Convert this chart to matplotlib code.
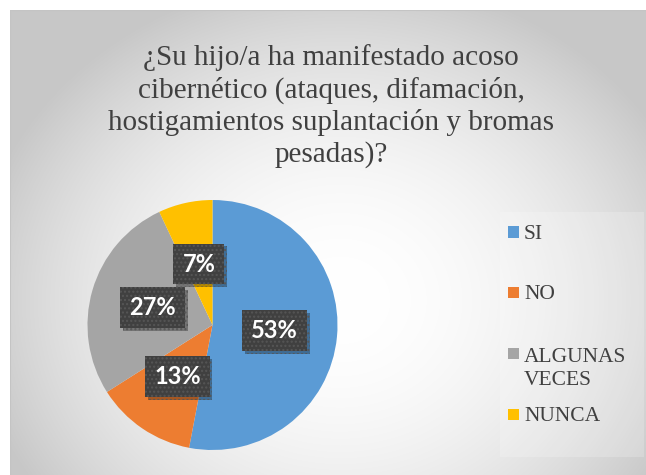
import numpy as np
import matplotlib
matplotlib.use("Agg")
import matplotlib.pyplot as plt
from matplotlib.patches import Rectangle
import matplotlib.patheffects as pe

# ---- data ----
categories = ["SI", "NO", "ALGUNAS\nVECES", "NUNCA"]
values = [53, 13, 27, 7]
colors = ["#5B9BD5", "#ED7D31", "#A5A5A5", "#FFC000"]
title = ("¿Su hijo/a ha manifestado acoso\ncibernético (ataques, difamación,\n"
         "hostigamientos suplantación y bromas\npesadas)?")

W, H = 646, 475
fig = plt.figure(figsize=(W / 100, H / 100), dpi=100)
fig.patch.set_facecolor("white")

# ---- chart background (radial gradient) ----
x0, y0 = 10, 10  # chart area starts here (pixels from left/top)
bg = fig.add_axes([x0 / W, 0, (W - x0) / W, (H - y0) / H])
bg.set_axis_off()
ny, nx = H - y0, W - x0
yy, xx = np.mgrid[0:ny, 0:nx]
cx, cy = 340 - x0, 300 - y0
d = np.sqrt(((xx - cx) / 330.0) ** 2 + ((yy - cy) / 290.0) ** 2)
v = 255 - np.clip(44 * d ** 2, 0, 56)
img = np.dstack([v, v, v]) / 255.0
bg.imshow(img, aspect="auto", extent=[0, 1, 0, 1], origin="upper")
bg.set_xlim(0, 1)
bg.set_ylim(0, 1)
bg.plot([0, 0, 1], [0, 1, 1], transform=bg.transAxes, color="#c4c4c4", lw=1.5)

# legend area (slightly lighter box)
fig.patches.append(Rectangle((500 / W, 1 - 457 / H), 144 / W, 245 / H,
                             transform=fig.transFigure, facecolor="white",
                             alpha=0.2, edgecolor="none", zorder=1))

# ---- title ----
fig.text(331 / W, 1 - 106 / H, title, ha="center", va="center",
         family="Liberation Serif", fontsize=21, color="#404040",
         linespacing=1.26)

# ---- pie ----
pcx, pcy, R = 212.5, 325, 125
ax = fig.add_axes([(pcx - R) / W, (H - pcy - R) / H, 2 * R / W, 2 * R / H])
ax.set_facecolor("none")
wedges, texts, autotexts = ax.pie(
    values, colors=colors, startangle=90, counterclock=False,
    autopct=lambda p: f"{p:.0f}%", pctdistance=0.5,
    wedgeprops=dict(linewidth=0),
    textprops=dict(color="white", fontsize=17, fontweight="bold",
                   family="Lato"))
ax.set_xlim(-1, 1)
ax.set_ylim(-1, 1)
for t in autotexts:
    t.set_bbox(dict(boxstyle="square,pad=0.38", facecolor="#404040",
                    edgecolor="#565656", linewidth=0, hatch="...."))
    bp = t.get_bbox_patch()
    bp.set_path_effects([pe.SimplePatchShadow(offset=(2, -2), shadow_rgbFace="#000000",
                                              alpha=0.3), pe.Normal()])

# ---- legend ----
leg_y = [232, 292, 353, 414]
line_px = 25
for lab, col, yc in zip(categories, colors, leg_y):
    n = lab.count("\n")
    fig.patches.append(Rectangle((508 / W, 1 - (yc + 5.5) / H), 11 / W, 11 / H,
                                 transform=fig.transFigure, facecolor=col,
                                 edgecolor="none", zorder=3))
    fig.text(524 / W, 1 - (yc + 7 + n * line_px) / H, lab, ha="left", va="baseline",
             family="Liberation Serif", fontsize=15.5, color="#404040",
             linespacing=1.29)

fig.savefig("out.png", dpi=100, facecolor=fig.get_facecolor())
